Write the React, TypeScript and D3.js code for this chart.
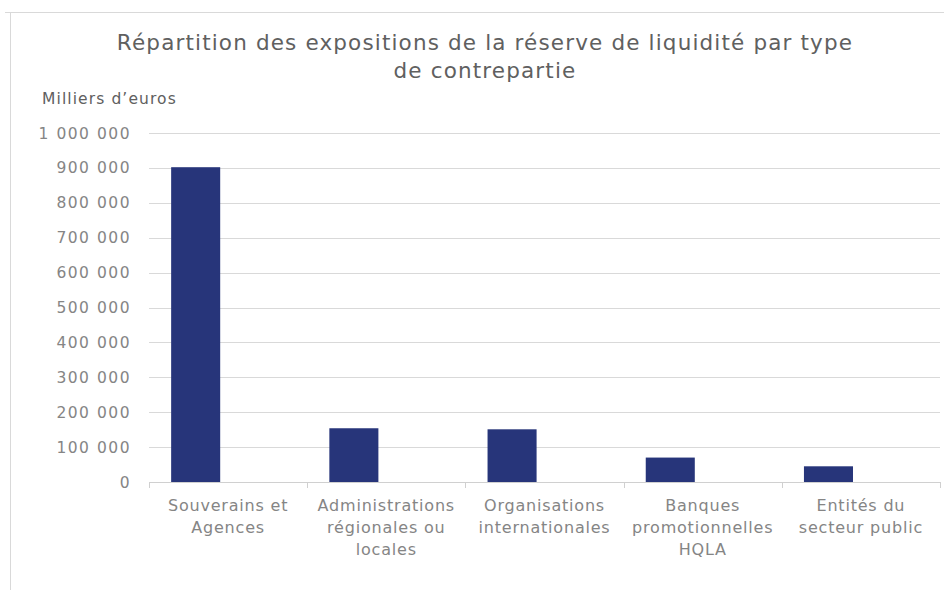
import React, { useEffect, useRef } from 'react';
import * as d3 from 'd3';

const categories = [
  ['Souverains et', 'Agences'],
  ['Administrations', 'régionales ou', 'locales'],
  ['Organisations', 'internationales'],
  ['Banques', 'promotionnelles', 'HQLA'],
  ['Entités du', 'secteur public'],
];
const values = [902000, 154000, 151000, 70000, 45000];
const yTicks = [0, 100000, 200000, 300000, 400000, 500000, 600000, 700000, 800000, 900000, 1000000];

const App: React.FC = () => {
  const svgRef = useRef<SVGSVGElement>(null);

  useEffect(() => {
    if (!svgRef.current) return;
    const W = 944, H = 590;
    const left = 149, right = 940, top = 133, bottom = 482;
    const font = "'DejaVu Sans', sans-serif";
    const textColor = '#858585';

    const svg = d3.select(svgRef.current);
    svg.selectAll('*').remove();

    // frame
    svg.append('path')
      .attr('d', `M5,12.5H${W}M10.5,12.5V${H}`)
      .attr('stroke', '#d9d9d9').attr('fill', 'none');

    // title
    const title = svg.append('text')
      .attr('text-anchor', 'middle')
      .attr('font-family', font).attr('font-size', 21.5)
      .attr('letter-spacing', 1.15)
      .attr('fill', '#606060');
    title.append('tspan').attr('x', 485).attr('y', 50)
      .text('Répartition des expositions de la réserve de liquidité par type');
    title.append('tspan').attr('x', 485).attr('y', 78).text('de contrepartie');

    svg.append('text')
      .attr('x', 42).attr('y', 104)
      .attr('font-family', font).attr('font-size', 15.5)
      .attr('letter-spacing', 1.1)
      .attr('fill', '#606060').text("Milliers d’euros");

    const x = d3.scaleBand<number>()
      .domain(categories.map((_, i) => i))
      .range([left, right]);

    const y = d3.scaleLinear().domain([0, 1000000]).range([bottom, top]);

    const fmt = d3.formatLocale({ decimal: ',', thousands: '\u00a0', grouping: [3], currency: ['', ' €'] }).format(',.0f');

    // gridlines
    svg.append('g')
      .selectAll('line')
      .data(yTicks.filter(t => t > 0))
      .join('line')
      .attr('x1', left).attr('x2', right)
      .attr('y1', d => Math.round(y(d)) + 0.5).attr('y2', d => Math.round(y(d)) + 0.5)
      .attr('stroke', '#d9d9d9').attr('stroke-width', 1.2);

    // y labels
    svg.append('g')
      .selectAll('text')
      .data(yTicks)
      .join('text')
      .attr('x', 131).attr('y', d => y(d) + 5.5)
      .attr('text-anchor', 'end')
      .attr('font-family', font).attr('font-size', 15.5)
      .attr('letter-spacing', 1.5)
      .attr('fill', textColor)
      .text(d => fmt(d));

    // bars
    const bw = x.bandwidth();
    svg.append('g')
      .selectAll('rect')
      .data(values)
      .join('rect')
      .attr('x', (_, i) => (x(i) as number) + bw * 0.14)
      .attr('width', bw * 0.31)
      .attr('y', d => y(d))
      .attr('height', d => bottom - y(d))
      .attr('fill', '#27357a');

    // x axis
    svg.append('line')
      .attr('x1', left).attr('x2', right)
      .attr('y1', bottom + 0.5).attr('y2', bottom + 0.5)
      .attr('stroke', '#d0d0d0').attr('stroke-width', 1.2);
    const bounds = [...categories.map((_, i) => x(i) as number), right];
    svg.append('g')
      .selectAll('line')
      .data(bounds)
      .join('line')
      .attr('x1', d => Math.round(d) + 0.5).attr('x2', d => Math.round(d) + 0.5)
      .attr('y1', bottom).attr('y2', bottom + 6)
      .attr('stroke', '#d0d0d0');

    const labels = svg.append('g')
      .selectAll('text')
      .data(categories)
      .join('text')
      .attr('text-anchor', 'middle')
      .attr('font-family', font).attr('font-size', 16)
      .attr('letter-spacing', 0.8)
      .attr('fill', textColor);
    labels.each(function (lines, i) {
      const cx = (x(i) as number) + bw / 2;
      d3.select(this).selectAll('tspan')
        .data(lines)
        .join('tspan')
        .attr('x', cx)
        .attr('y', (_, j) => 511 + j * 22)
        .text(d => d);
    });
  }, []);

  return (
    <div style={{ position: 'absolute', left: 0, top: 0, width: 944, height: 590, background: '#fff' }}>
      <svg ref={svgRef} width={944} height={590} viewBox="0 0 944 590" />
    </div>
  );
};

export default App;
